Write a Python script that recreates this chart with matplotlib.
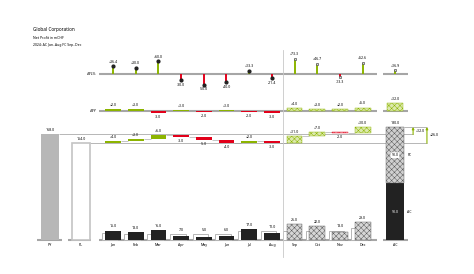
import numpy as np
import matplotlib.pyplot as plt
from matplotlib import transforms
from matplotlib.lines import Line2D

plt.rcParams['font.family'] = ['Noto Sans', 'DejaVu Sans']
plt.rcParams['hatch.linewidth'] = 0.35

# ---------------------------
# DATA
# ---------------------------
months = ["Jan", "Feb", "Mar", "Apr", "May", "Jun",
          "Jul", "Aug", "Sep", "Oct", "Nov", "Dec"]
is_fc = [False] * 8 + [True] * 4
ac_values = [15.0, 13.0, 16.0, 7.0, 5.0, 6.0, 17.0, 11.0, 26.0, 22.0, 13.0, 29.0]
pl_values = [11.0, 10.0, 10.0, 10.0, 10.0, 10.0, 15.0, 14.0, 15.0, 15.0, 15.0, 19.0]
dpl_pct = [36.4, 30.0, 60.0, -30.0, -50.0, -40.0, 13.3, -21.4, 73.3, 46.7, -13.3, 52.6]
dpl_pct_total = 16.9
dpy_values = [2.0, 3.0, -3.0, 1.0, -2.0, 1.0, -2.0, -3.0, 4.0, 3.0, 2.0, 5.0]
dpy_total = 12.0
py_total = 168.0
pl_total = 154.0
ac_part = 90.0
fc_part = 90.0

# ---------------------------
# STYLE / LAYOUT
# ---------------------------
GREEN = "#8cb400"
GREEN_LIGHT = "#dce9ad"
RED = "#e2001a"
RED_LIGHT = "#f7c6c9"
DARK = "#222222"
GRAY_AXIS = "#a6a6a6"
GRAY_PY = "#b7b7b7"
FS = 2.6

W, H = 474, 274
x = np.arange(12)
X_PY, X_PL, X_TOT = -2.78, -1.41, 12.42
XLIM = (-113 / 22.7, (W - 113) / 22.7)
BW = 0.69

fig = plt.figure(figsize=(W / 100, H / 100), dpi=100)


def make_axes(top_px, bottom_px, zero_px, px_per_unit):
    ax = fig.add_axes([0, 1 - bottom_px / H, 1, (bottom_px - top_px) / H])
    ax.set_xlim(XLIM)
    ax.set_ylim(-(bottom_px - zero_px) / px_per_unit, (zero_px - top_px) / px_per_unit)
    ax.axis("off")
    ax.patch.set_visible(False)
    return ax


def axis_line(ax, x0, x1, y=0):
    ax.hlines(y, x0, x1, color=GRAY_AXIS, lw=1.5, zorder=1)


def label(ax, xv, yv, txt, up=True, bold=False, pts=1.5, **kw):
    ax.annotate(txt, (xv, yv), xytext=(0, pts if up else -pts), textcoords="offset points",
                ha="center", va="bottom" if up else "top", fontsize=FS,
                fontweight="bold" if bold else "normal", **kw)


# titles
fig.text(33 / W, 1 - 30 / H, "Global Corporation", fontsize=3.4, fontweight="bold", va="center")
fig.text(33 / W, 1 - 38 / H, "Net Profit in mCHF", fontsize=2.5, va="center")
fig.text(33 / W, 1 - 45 / H, "2024: AC Jan..Aug FC Sep..Dec", fontsize=2.5, va="center")

# ---------------------------
# ΔPL% PIN CHART
# ---------------------------
ax_pin = make_axes(48, 96, 74, 0.21)
axis_line(ax_pin, -0.62, 11.63)
axis_line(ax_pin, 11.89, 13.0)
ax_pin.text(-0.72, 0, "ΔPL%", ha="right", va="center", fontsize=FS, fontweight="bold")
for xi, v, fc in zip(x, dpl_pct, is_fc):
    col = GREEN if v > 0 else RED
    ax_pin.vlines(xi, 0, v, color=col, lw=1.4, zorder=2)
    if fc:
        ax_pin.plot(xi, v, marker="s", ms=2.0, mfc="#d9d9d9", mec="#555555", mew=0.5, zorder=3)
    else:
        ax_pin.plot(xi, v, marker="o", ms=2.0, color=DARK, zorder=3)
    label(ax_pin, xi, v, f"{v:+.1f}", up=v > 0, pts=2.0)
ax_pin.vlines(X_TOT, 0, dpl_pct_total, color=GREEN, lw=1.4, zorder=2)
ax_pin.plot(X_TOT, dpl_pct_total, marker="s", ms=2.0, mfc="#d9d9d9", mec="#555555", mew=0.5, zorder=3)
label(ax_pin, X_TOT, dpl_pct_total, f"{dpl_pct_total:+.1f}", bold=True, pts=2.0)

# ---------------------------
# ΔPY BAR ROW
# ---------------------------
ax_dpy = make_axes(96, 122, 110.7, 0.628)
axis_line(ax_dpy, -0.62, 11.63)
axis_line(ax_dpy, 11.89, 13.0)
ax_dpy.text(-0.72, 0, "ΔPY", ha="right", va="center", fontsize=FS, fontweight="bold")
for xi, v, fc in zip(x, dpy_values, is_fc):
    if fc:
        ax_dpy.bar(xi, v, BW, facecolor=GREEN_LIGHT if v > 0 else RED_LIGHT, hatch="xxxxxx",
                   edgecolor=GREEN if v > 0 else RED, lw=0.3, zorder=2)
    else:
        ax_dpy.bar(xi, v, BW, color=GREEN if v > 0 else RED, zorder=2)
    label(ax_dpy, xi, v, f"{v:+.1f}", up=v > 0)
ax_dpy.bar(X_TOT, dpy_total, BW, facecolor=GREEN_LIGHT, hatch="xxxxxx",
           edgecolor=GREEN, lw=0.3, zorder=2)
label(ax_dpy, X_TOT, dpy_total, f"{dpy_total:+.1f}", bold=True)

# ---------------------------
# MAIN: COLUMNS + WATERFALL
# ---------------------------
ax = make_axes(115, 262, 240, 0.628)
axis_line(ax, -3.35, -2.25)
axis_line(ax, -1.98, -0.97)
axis_line(ax, -0.62, 11.63)
axis_line(ax, 11.89, 13.0)

# PY / PL totals
ax.bar(X_PY, py_total, 0.82, color=GRAY_PY, zorder=2)
label(ax, X_PY, py_total, f"{py_total:.1f}", bold=True)
ax.bar(X_PL, pl_total, 0.78, facecolor="white", edgecolor="#c4c4c4", lw=1.2, zorder=2)
label(ax, X_PL, pl_total, f"{pl_total:.1f}", bold=True)

# monthly columns
for xi, a, p, fc, m in zip(x, ac_values, pl_values, is_fc, months):
    ax.bar(xi - 0.15, p, BW, facecolor="white", edgecolor="#b5b5b5", lw=0.7, zorder=1)
    if fc:
        ax.bar(xi, a, BW, facecolor="#d6d6d6", hatch="xxxxxx", edgecolor="#5a5a5a", lw=0.3, zorder=2)
    else:
        ax.bar(xi, a, BW, color=DARK, zorder=2)
    label(ax, xi, max(a, p), f"{a:.1f}")
    label(ax, xi, 0, m, up=False, pts=2.0)
label(ax, X_PY, 0, "PY", up=False, pts=2.0, bold=True)
label(ax, X_PL, 0, "PL", up=False, pts=2.0, bold=True)
label(ax, X_TOT, 0, "AC", up=False, pts=2.0, bold=True)

# waterfall of AC/FC vs PL
deltas = np.array(ac_values) - np.array(pl_values)
ends = pl_total + np.cumsum(deltas)
starts = ends - deltas
for xi, s, d, fc in zip(x, starts, deltas, is_fc):
    pos = d > 0
    if fc:
        ax.bar(xi, d, BW, bottom=s, facecolor=GREEN_LIGHT if pos else RED_LIGHT, hatch="xxxxxx",
               edgecolor=GREEN if pos else RED, lw=0.3, zorder=3)
    else:
        ax.bar(xi, d, BW, bottom=s, color=GREEN if pos else RED, zorder=3)
    label(ax, xi, s + d, f"{d:+.1f}", up=pos)
for i in range(11):
    ax.hlines(ends[i], x[i] + BW / 2, x[i + 1] - BW / 2, color="#9a9a9a", lw=0.4, zorder=2)

total = ac_part + fc_part
# reference lines
ax.hlines(py_total, X_PY + 0.41, 13.22, color="#9a9a9a", lw=0.5, zorder=1)
ax.hlines(pl_total, X_PL + 0.4, 13.83, color="#9a9a9a", lw=0.5, zorder=1)
ax.hlines(total, X_TOT + 0.39, 13.83, color="#9a9a9a", lw=0.5, zorder=1)

# stacked total column
ax.bar(X_TOT, ac_part, 0.78, color=DARK, zorder=3)
ax.bar(X_TOT, fc_part, 0.78, bottom=ac_part, facecolor="#d0d0d0", hatch="xxxxxx",
       edgecolor="#5a5a5a", lw=0.3, zorder=3)
ax.text(X_TOT, ac_part / 2, f"{ac_part:.1f}", color="white", fontsize=FS,
        fontweight="bold", ha="center", va="center", zorder=4)
ax.text(X_TOT, ac_part + fc_part / 2, f"{fc_part:.1f}", fontsize=FS, fontweight="bold",
        ha="center", va="center", zorder=4,
        bbox=dict(boxstyle="round,pad=0.25", fc="white", ec="none"))
label(ax, X_TOT, total, f"{total:.1f}", bold=True)
ax.text(X_TOT + 0.64, ac_part / 2, "AC", fontsize=FS, ha="center", va="center")
ax.text(X_TOT + 0.64, ac_part + fc_part / 2, "FC", fontsize=FS, ha="center", va="center")

# difference brackets
for xb, base in [(13.22, py_total), (13.83, pl_total)]:
    ax.annotate("", xy=(xb, total), xytext=(xb, base),
                arrowprops=dict(arrowstyle="-|>", color=GREEN, lw=0.8,
                                mutation_scale=3, shrinkA=0, shrinkB=0))
    ax.text(xb + 0.12, (total + base) / 2, f"{total - base:+.1f}", fontsize=FS,
            ha="left", va="center")

# separator AC | FC
trans = transforms.blended_transform_factory(ax.transData, fig.transFigure)
fig.add_artist(Line2D([7.5, 7.5], [1 - 257 / H, 1 - 50 / H], transform=trans,
                      color="#c8c8c8", lw=0.6))

fig.savefig("out.png", dpi=100, facecolor="white")
